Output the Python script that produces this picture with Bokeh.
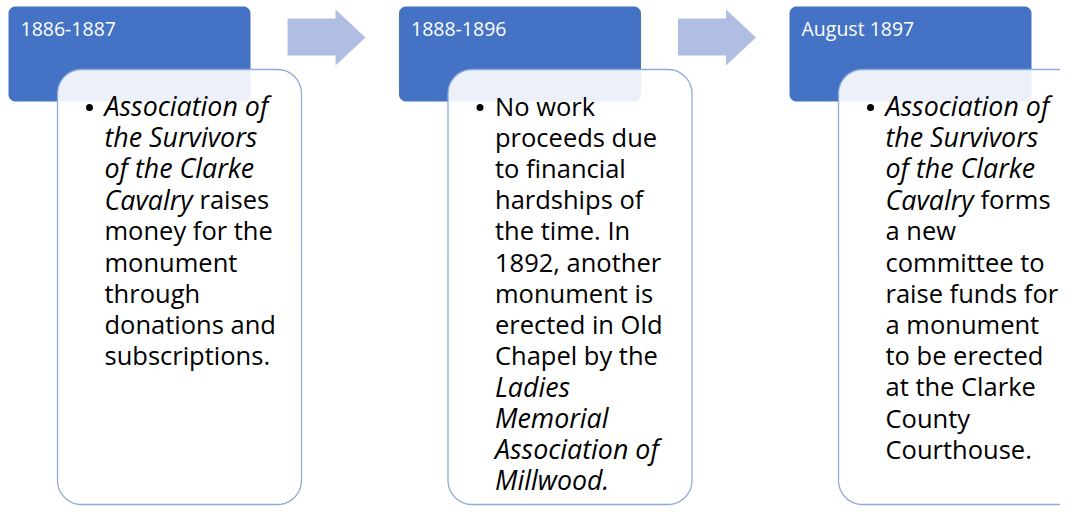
import numpy as np
from bokeh.plotting import figure
from bokeh.models import ColumnDataSource, Range1d
from bokeh.core.properties import value
from bokeh.embed import file_html
from bokeh.resources import INLINE

# ---- content -------------------------------------------------------------
headers = ["1886-1887", "1888-1896", "August 1897"]

# "*...*" marks italic runs
stage1_lines = ["*Association of*", "*the Survivors*", "*of the Clarke*", "*Cavalry* raises",
                "money for the", "monument", "through", "donations and", "subscriptions."]
stage2_lines = ["No work", "proceeds due", "to financial", "hardships of", "the time. In",
                "1892, another", "monument is", "erected in Old", "Chapel by the",
                "*Ladies*", "*Memorial*", "*Association of*", "*Millwood.*"]
stage3_lines = ["*Association of*", "*the Survivors*", "*of the Clarke*", "*Cavalry* forms",
                "a new", "committee to", "raise funds for", "a monument", "to be erected",
                "at the Clarke", "County", "Courthouse."]
stages = [stage1_lines, stage2_lines, stage3_lines]

# ---- layout (reference pixel coordinates) --------------------------------
STEP = 390.5
HDR_L, HDR_R, HDR_T, HDR_B = 8, 250, 6, 101
BOX_L, BOX_R, BOX_T, BOX_B = 57, 301, 69, 504
TXT_X, BUL_X = 104, 89
BASE0, LINE_H = 105, 31.2
UPRIGHT_OFFSET = 95   # start of upright run after an italic word on mixed lines

BLUE = "#4472C4"
ARROW = "#B0BEE3"
OUTLINE = "#8FAADC"


def rounded_rect(l, r, t, b, rad, n=12):
    xs, ys = [], []
    corners = [(r - rad, t + rad, -90, 0), (r - rad, b - rad, 0, 90),
               (l + rad, b - rad, 90, 180), (l + rad, t + rad, 180, 270)]
    for cx, cy, a0, a1 in corners:
        a = np.radians(np.linspace(a0, a1, n))
        xs.extend(cx + rad * np.cos(a))
        ys.extend(cy + rad * np.sin(a))
    return list(xs), list(ys)


p = figure(width=1060, height=506, output_backend="svg", toolbar_location=None,
           x_range=Range1d(0, 1060), y_range=Range1d(506, 0),
           min_border=0, outline_line_color=None, background_fill_color="white")
p.axis.visible = False
p.grid.visible = False

# header boxes
hx, hy = [], []
for i in range(3):
    xs, ys = rounded_rect(HDR_L + i * STEP, HDR_R + i * STEP, HDR_T, HDR_B, 7)
    hx.append(xs); hy.append(ys)
p.patches(hx, hy, fill_color=BLUE, line_color=None)

# arrows
ax, ay = [], []
for i in range(2):
    o = i * STEP
    ax.append([287 + o, 335 + o, 335 + o, 365 + o, 335 + o, 335 + o, 287 + o])
    ay.append([18, 18, 9, 37, 65, 55, 55])
p.patches(ax, ay, fill_color=ARROW, line_color=None)

# white content boxes (slightly translucent)
bx, by = [], []
for i in range(3):
    xs, ys = rounded_rect(BOX_L + i * STEP, BOX_R + i * STEP, BOX_T, BOX_B, 24)
    bx.append(xs); by.append(ys)
p.patches(bx, by, fill_color="white", fill_alpha=0.9, line_color=OUTLINE, line_width=1.3)

# header labels
p.text(x=[20 + i * STEP for i in range(3)], y=[28] * 3, text=headers,
       text_font=value("Open Sans"), text_font_size="19.5px", text_color="white",
       text_baseline="middle", text_align="left")

# body text
rows = {"normal": dict(x=[], y=[], text=[]), "italic": dict(x=[], y=[], text=[])}
for i, lines in enumerate(stages):
    x0 = TXT_X + i * STEP
    for j, line in enumerate(lines):
        y = BASE0 + j * LINE_H
        parts = line.split("*")
        cur = x0
        for k, part in enumerate(parts):
            if not part:
                continue
            style = "italic" if k % 2 == 1 else "normal"
            if k == 2 and parts[1]:
                cur = x0 + UPRIGHT_OFFSET
                part = part.lstrip()
            rows[style]["x"].append(cur)
            rows[style]["y"].append(y)
            rows[style]["text"].append(part)

sizes = {"normal": "25.5px", "italic": "26.8px"}
for style, d in rows.items():
    p.text(x="x", y="y", text="text", source=ColumnDataSource(d),
           text_font=value("Open Sans"), text_font_size=sizes[style],
           text_font_style=style, text_color="black",
           text_baseline="alphabetic", text_align="left")

# bullets
p.scatter(x=[BUL_X + i * STEP for i in range(3)], y=[107] * 3,
          size=7, marker="circle", fill_color="black", line_color=None)

open("out.html", "w").write(file_html(p, INLINE))
